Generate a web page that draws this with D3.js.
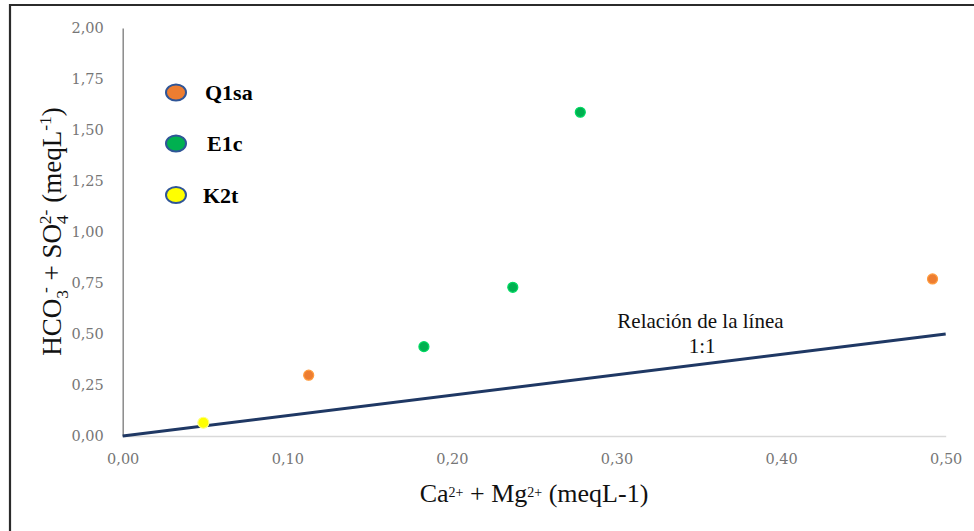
<!DOCTYPE html>
<html>
<head>
<meta charset="utf-8">
<script src="https://cdn.jsdelivr.net/npm/d3@7"></script>
<style>
  html, body { margin: 0; padding: 0; background: #fff; }
  svg { display: block; }
</style>
</head>
<body>
<svg id="chart" width="974" height="531"></svg>
<script>
// Sample groups: Ca2+ + Mg2+ (x) vs HCO3- + SO42- (y), meq/L
const seriesNames = ["Q1sa", "E1c", "K2t"];
const seriesColors = ["#ED7D31", "#00B050", "#FFFF00"];
const q1saX = [0.113, 0.492];
const q1saY = [0.298, 0.770];
const e1cX = [0.183, 0.237, 0.278];
const e1cY = [0.438, 0.729, 1.587];
const k2tX = [0.049];
const k2tY = [0.065];

// 1:1 reference line
const refLineX = [0.0, 0.5];
const refLineY = [0.0, 0.5];

const xTicks = [0, 0.1, 0.2, 0.3, 0.4, 0.5];
const yTicks = [0, 0.25, 0.5, 0.75, 1.0, 1.25, 1.5, 1.75, 2.0];

const SERIF = "Liberation Serif";
const TICK_FONT = "DejaVu Serif";

const svg = d3.select("#chart");
const W = 974, H = 531;

const x = d3.scaleLinear().domain([0, 0.5]).range([122.7, 945.7]);
const y = d3.scaleLinear().domain([0, 2]).range([436, 28]);

const locale = d3.formatLocale({ decimal: ",", thousands: ".", grouping: [3], currency: ["", ""] });
const fmt = locale.format(".2f");

// outer frame (top and left edges)
svg.append("path")
  .attr("d", `M10,${H} L10,5 L${W},5`)
  .attr("fill", "none")
  .attr("stroke", "#2b2b2b")
  .attr("stroke-width", 2.2);

// x axis
const xAxis = svg.append("g")
  .attr("transform", `translate(0,${y(0)})`)
  .call(d3.axisBottom(x).tickValues(xTicks).tickFormat(fmt).tickSize(0).tickPadding(18));
xAxis.attr("font-family", null);
xAxis.select(".domain").attr("stroke", "#d9d9d9").attr("stroke-width", 1.5);
xAxis.selectAll("text")
  .attr("fill", "#767676")
  .attr("font-family", TICK_FONT)
  .attr("font-size", 14.5);

// y axis
const yAxis = svg.append("g")
  .attr("transform", `translate(${x(0)},0)`)
  .call(d3.axisLeft(y).tickValues(yTicks).tickFormat(fmt).tickSize(0).tickPadding(19));
yAxis.attr("font-family", null);
yAxis.select(".domain").attr("stroke", "#8a8a8a").attr("stroke-width", 1.5);
yAxis.selectAll("text")
  .attr("fill", "#767676")
  .attr("font-family", TICK_FONT)
  .attr("font-size", 14.5);

// 1:1 line
const line = d3.line().x(d => x(d[0])).y(d => y(d[1]));
svg.append("path")
  .datum(d3.zip(refLineX, refLineY))
  .attr("d", line)
  .attr("fill", "none")
  .attr("stroke", "#1F3864")
  .attr("stroke-width", 3);

// line annotation
const note = svg.append("text")
  .attr("text-anchor", "middle")
  .attr("fill", "#111")
  .attr("font-family", SERIF)
  .attr("font-size", 21);
note.append("tspan").attr("x", x(0.351)).attr("y", y(0.53)).text("Relación de la línea");
note.append("tspan").attr("x", x(0.352)).attr("dy", 24.7).text("1:1");

// points
const groups = [
  d3.zip(q1saX, q1saY),
  d3.zip(e1cX, e1cY),
  d3.zip(k2tX, k2tY)
];
groups.forEach((pts, i) => {
  svg.append("g").selectAll("circle")
    .data(pts)
    .join("circle")
    .attr("cx", d => x(d[0]))
    .attr("cy", d => y(d[1]))
    .attr("r", i === 2 ? 5.5 : 5)
    .attr("fill", seriesColors[i])
    .attr("stroke", i === 2 ? "#ffff80" : d3.color(seriesColors[i]).brighter(0.6))
    .attr("stroke-width", 1.2);
});

// legend
const legendY = [92.5, 143.5, 195];
const legendTextX = [205, 207, 203];
const leg = svg.append("g");
seriesNames.forEach((name, i) => {
  leg.append("ellipse")
    .attr("cx", 176)
    .attr("cy", legendY[i])
    .attr("rx", 10)
    .attr("ry", 8)
    .attr("fill", seriesColors[i])
    .attr("stroke", "#2F5597")
    .attr("stroke-width", 2);
  leg.append("text")
    .attr("x", legendTextX[i])
    .attr("y", legendY[i] + 7.5)
    .attr("fill", "#000")
    .attr("font-family", SERIF)
    .attr("font-size", 22)
    .attr("font-weight", "bold")
    .text(name);
});

// x axis title
const xt = svg.append("text")
  .attr("x", 534)
  .attr("y", 502)
  .attr("text-anchor", "middle")
  .attr("fill", "#111")
  .attr("font-family", SERIF)
  .attr("font-size", 26);
xt.append("tspan").text("Ca");
xt.append("tspan").attr("dy", -5).attr("font-size", 14).text("2+");
xt.append("tspan").attr("dy", 5).text(" + Mg");
xt.append("tspan").attr("dy", -5).attr("font-size", 14).text("2+");
xt.append("tspan").attr("dy", 5).text(" (meqL-1)");

// y axis title
const yt = svg.append("text")
  .attr("transform", "translate(61,231.5) rotate(-90)")
  .attr("text-anchor", "middle")
  .attr("fill", "#111")
  .attr("font-family", SERIF)
  .attr("font-size", 27);
yt.append("tspan").text("HCO");
yt.append("tspan").attr("dy", 7).attr("font-size", 17.5).text("3");
yt.append("tspan").attr("dy", -17).attr("dx", -3).attr("font-size", 17.5).text("-");
yt.append("tspan").attr("dy", 10).text(" + SO");
yt.append("tspan").attr("dy", 7).attr("font-size", 17.5).text("4");
yt.append("tspan").attr("dy", -17).attr("dx", -9).attr("font-size", 17.5).text("2-");
yt.append("tspan").attr("dy", 10).text(" (meqL");
yt.append("tspan").attr("dy", -10).attr("font-size", 17.5).text("-1");
yt.append("tspan").attr("dy", 10).text(")");
</script>
</body>
</html>
